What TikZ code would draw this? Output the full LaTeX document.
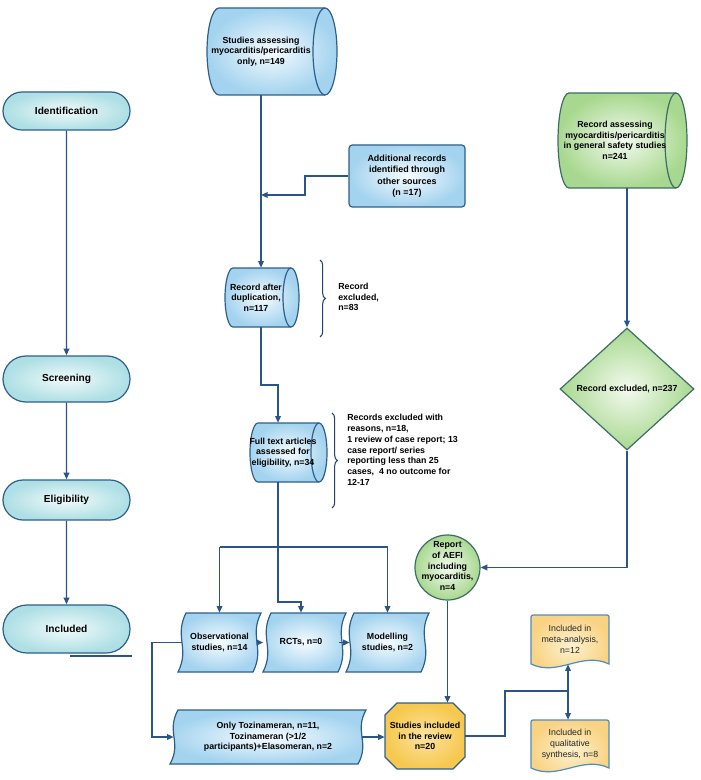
\documentclass[tikz,border=0pt]{standalone}
\usepackage{fontspec}
\setmainfont{Liberation Sans}
\usetikzlibrary{shapes.geometric,shapes.misc,arrows.meta,decorations.pathreplacing,calc}

\definecolor{conncol}{HTML}{2B5588}
\definecolor{blueedge}{HTML}{2E5F8A}
\definecolor{blueouter}{HTML}{A3D3EF}
\definecolor{blueinner}{HTML}{F6FCFF}
\definecolor{stageouter}{HTML}{ADDFE4}
\definecolor{stageinner}{HTML}{F2FAFB}
\definecolor{greenedge}{HTML}{3C6E64}
\definecolor{greenouter}{HTML}{A8D88F}
\definecolor{greeninner}{HTML}{F3FAEF}
\definecolor{yellowedge}{HTML}{4D8CC4}
\definecolor{yellowouter}{HTML}{F9D384}
\definecolor{yellowinner}{HTML}{FDF1CF}
\definecolor{octouter}{HTML}{F6C84E}
\definecolor{octinner}{HTML}{FBE3A0}

\tikzset{
  conn/.style={draw=conncol, line width=1.1pt},
  arr/.style={conn, -{Triangle[length=5pt,width=4.2pt]}},
  bluesh/.style={draw=blueedge, line width=0.9pt, inner color=blueinner, outer color=blueouter},
  blueln/.style={draw=blueedge, line width=0.9pt},
  greensh/.style={draw=greenedge, line width=0.9pt, inner color=greeninner, outer color=greenouter},
  greenln/.style={draw=greenedge, line width=0.9pt},
  yellowsh/.style={draw=yellowedge, line width=0.9pt, inner color=yellowinner, outer color=yellowouter},
  octsh/.style={draw=blueedge, line width=0.9pt, inner color=octinner, outer color=octouter},
  txt/.style={font=\fontsize{6.6}{7.9}\selectfont\bfseries, align=center, inner sep=0pt, text=black},
  doctxt/.style={font=\fontsize{6.6}{8.3}\selectfont, align=center, inner sep=0pt, text=black!85},
  stage/.style={rounded rectangle, draw=blueedge, line width=0.9pt, inner color=stageinner, outer color=stageouter,
    minimum width=95.25pt, inner sep=0pt, font=\fontsize{7.6}{9}\selectfont\bfseries},
  bracestyle/.style={draw=conncol!80!black, line width=0.8pt, decorate, decoration={brace, amplitude=4pt}}
}

% horizontal cylinder: x1,y1,x2,y2,rx,shade style,line style
\newcommand\hcyl[7]{%
  \pgfmathsetmacro\cyA{#1+#5}%
  \pgfmathsetmacro\cyB{#3-#5}%
  \pgfmathsetmacro\cyR{(#4-#2)/2}%
  \shadedraw[#6] (\cyA,#2) -- (\cyB,#2) arc[start angle=-90,end angle=90,x radius=#5,y radius=\cyR]
     -- (\cyA,#4) arc[start angle=90,end angle=270,x radius=#5,y radius=\cyR] -- cycle;
  \draw[#7] (\cyB,#2) arc[start angle=-90,end angle=-270,x radius=#5,y radius=\cyR];
}
% tape with wavy sides: L,T,R,B,style
\newcommand\tapeshape[5]{%
  \pgfmathsetmacro\tH{#4-#2}%
  \shadedraw[#5] (#1+4,#2) -- (#3+4,#2)
     .. controls (#3-8,#2+0.4*\tH) and (#3+8,#2+0.6*\tH) .. (#3-4,#4)
     -- (#1-4,#4)
     .. controls (#1+8,#2+0.6*\tH) and (#1-8,#2+0.4*\tH) .. (#1+4,#2) -- cycle;
}
% document with wavy bottom: L,T,R,B,style
\newcommand\docshape[5]{%
  \pgfmathsetmacro\dW{#3-#1}%
  \shadedraw[#5, rounded corners=1.5pt] (#1,#4) -- (#1,#2) -- (#3,#2) [sharp corners] -- (#3,#4)
     .. controls (#3-0.35*\dW,#4-13) and (#1+0.35*\dW,#4+13) .. (#1,#4) -- cycle;
}

\begin{document}
\begin{tikzpicture}[x=0.75pt,y=-0.75pt]
\useasboundingbox (0,0) rectangle (700,780);
\fill[white] (0,0) rectangle (700,780);

% ---------- stage column ----------
\node[stage, minimum height=28.5pt] (ident) at (66.5,111) {Identification};
\node[stage, minimum height=34.5pt] (screen) at (66.5,379) {Screening};
\node[stage, minimum height=30pt] (elig) at (66.5,500) {Eligibility};
\node[stage, minimum height=36pt] (incl) at (66.5,629) {Included};
\draw[conn, line width=0.8pt] (70,656) -- (132,656);
\draw[arr] (ident) -- (screen);
\draw[arr] (screen) -- (elig);
\draw[arr] (elig) -- (incl);

% ---------- top cylinder ----------
\hcyl{207}{8}{337}{95}{12}{bluesh}{blueln}
\node[txt, minimum height=65.25pt] (studies) at (261,51.5) {Studies assessing\\myocarditis/pericarditis\\only, n=149};

% ---------- additional records ----------
\node[rectangle, rounded corners=2.5pt, minimum width=87pt, minimum height=46.5pt, bluesh,
      txt, font=\fontsize{6.7}{8.6}\selectfont\bfseries] (addl) at (407,176)
      {Additional records\\identified through\\other sources\\(n =17)};

% ---------- green cylinder ----------
\hcyl{558}{93}{687}{188}{11}{greensh}{greenln}
\node[txt, minimum height=71.25pt] (gcyl) at (615,140.5) {Record assessing\\myocarditis/pericarditis\\in general safety studies\\n=241};

% ---------- diamond ----------
\node[diamond, aspect=1.1, minimum width=100.5pt, minimum height=91.5pt, inner sep=0pt, greensh, txt] (rex) at (627,389) {Record excluded, n=237};

% ---------- record after duplication ----------
\hcyl{225}{268}{299}{327}{8}{bluesh}{blueln}
\node[txt, minimum height=44.25pt] (recdup) at (256,297.5) {Record after\\duplication,\\n=117};
\draw[bracestyle] (320,260) -- (320,337);
\node[txt, anchor=west, align=left] (exc1) at (338,297) {Record\\excluded,\\n=83};

% ---------- full text ----------
\hcyl{250}{423}{327}{482}{8}{bluesh}{blueln}
\node[txt, minimum height=44.25pt] (fulltext) at (283,452.5) {Full text articles\\assessed for\\eligibility, n=34};
\draw[bracestyle] (332,413) -- (332,508);
\node[txt, anchor=north west, align=left, font=\fontsize{6.6}{8.1}\selectfont\bfseries] (exc2) at (347,414)
  {Records excluded with\\reasons, n=18,\\1 review of case report; 13\\case report/ series\\reporting less than 25\\cases,\ \ 4 no outcome for\\12-17};

% ---------- study-type boxes ----------
\tapeshape{182}{613}{257}{672}{bluesh}
\node[txt, minimum width=56.25pt, minimum height=44.25pt] (obs) at (219.5,642.5) {Observational\\studies, n=14};
\tapeshape{267}{613}{342}{672}{bluesh}
\node[txt, minimum width=56.25pt, minimum height=44.25pt] (rct) at (301,642.5) {RCTs, n=0};
\tapeshape{350}{613}{425}{672}{bluesh}
\node[txt, minimum width=56.25pt, minimum height=44.25pt] (model) at (387.5,642.5) {Modelling\\studies, n=2};

% ---------- AEFI circle ----------
\node[circle, minimum size=48.75pt, inner sep=0pt, greensh] (aefi) at (447.5,567.5) {};
\node[txt, font=\fontsize{6.6}{8.2}\selectfont\bfseries] (aefitxt) at (447.5,566) {Report\\of AEFI\\including\\myocarditis,\\n=4};

% ---------- only tozinameran ----------
\tapeshape{174}{710}{362}{764}{bluesh}
\node[txt, minimum width=141pt, minimum height=40.5pt] (only) at (268,737) {Only Tozinameran, n=11,\\Tozinameran (>1/2\\participants)+Elasomeran, n=2};

% ---------- octagon ----------
\shadedraw[octsh] (397,703) -- (453,703) -- (465,715) -- (465,757) -- (453,769) -- (397,769) -- (385,757) -- (385,715) -- cycle;
\node[txt, minimum width=60pt, minimum height=49.5pt] (octo) at (425,736) {Studies included\\in the review\\n=20};

% ---------- documents ----------
\docshape{531}{615}{609}{664}{yellowsh}
\node[doctxt, minimum height=36.75pt] (topdoc) at (570,639.5) {Included in\\meta-analysis,\\n=12};
\docshape{531}{720}{609}{768}{yellowsh}
\node[doctxt, minimum height=36pt] (botdoc) at (570,744) {Included in\\qualitative\\synthesis, n=8};

% ---------- connectors ----------
\coordinate (bend1) at (305,195);
\draw[arr] (addl.west) -| (bend1) -- (studies.south |- bend1);
\draw[arr] (studies.south) -- (studies.south |- recdup.north);

\coordinate (j2) at (278,385);
\draw[arr] (studies.south |- recdup.south) |- (j2) -- (j2 |- fulltext.north);

\coordinate (split) at (278,547);
\draw[conn] (split |- fulltext.south) -- (split);
\draw[conn] (obs.north |- split) -- (model.north |- split);
\draw[arr] (obs.north |- split) -- (obs.north);
\draw[arr] (model.north |- split) -- (model.north);
\coordinate (j3) at (278,602);
\draw[arr] (split) -- (j3) -| (rct.north);

\draw[arr] (obs) -- (rct);
\draw[arr] (rct) -- (model);

\draw[arr] (rex.north |- gcyl.south) -- (rex.north);
\draw[arr] (rex.south) |- (aefi.east);

\coordinate (j4) at (152,0);
\draw[arr] (obs.west) -- (j4 |- obs.west) |- (only.west);
\draw[arr] (only.east) -- (only.east -| octo.west);

\draw[arr] (aefi.south) -- (aefi.south |- octo.north);

\coordinate (jd) at (568,691);
\coordinate (j6) at (505,0);
\draw[conn] (octo.east) -- (j6 |- octo.east) |- (jd);
\draw[arr] (jd) -- (jd |- topdoc.south);
\draw[arr] (jd) -- (jd |- botdoc.north);
\end{tikzpicture}
\end{document}
